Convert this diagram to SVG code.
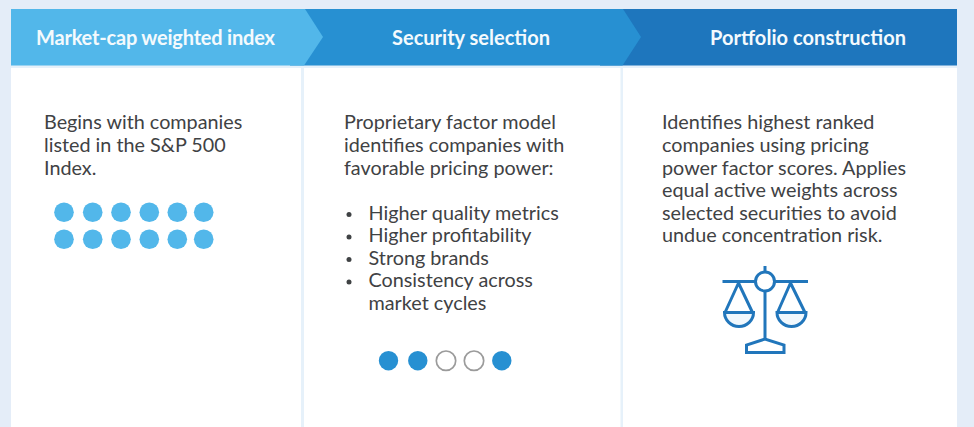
<svg xmlns="http://www.w3.org/2000/svg" width="974" height="427" viewBox="0 0 974 427">
<style>
.h{font:700 20px "Lato","Noto Sans",sans-serif;fill:#f4fafd}
.b{font:400 19.800px "Lato","Noto Sans",sans-serif;fill:#3f4244}
.t{fill:#3f4244}
.l{fill:#52b7ea}.m{fill:#2790d2}.d{fill:#1e76bd}
.ic{fill:none;stroke:#2176bb;stroke-width:3}
.o{fill:#fff;stroke:#9b9b9b;stroke-width:1.7}
</style>
<rect width="974" height="427" fill="#e4edf8"/>
<rect x="11" y="66" width="946" height="361" fill="#fff"/>
<rect x="11" y="65.500" width="946" height="2.500" fill="#e6f1fa"/>
<rect x="301" y="68" width="3" height="359" fill="#e6f1fa"/>
<rect x="620.500" y="68" width="2.500" height="359" fill="#e6f1fa"/>
<g id="node-portfolio">
<path class="d" d="M600 9H957V65.500H600Z"/>
<text class="h" x="710" y="45" textLength="196">Portfolio construction</text>
<text class="b" x="662" y="129">Identifies highest ranked</text>
<text class="b" x="662" y="152">companies using pricing</text>
<text class="b" x="662" y="175">power factor scores. Applies</text>
<text class="b" x="662" y="197">equal active weights across</text>
<text class="b" x="662" y="220">selected securities to avoid</text>
<text class="b" x="662" y="242">undue concentration risk.</text>
<g class="ic">
<path d="M765 266V272M722.500 281.500H755.500M774.500 281.500H808M765 291V339"/>
<circle cx="765" cy="281.500" r="9.500"/>
<path d="M738.500 283L725 312.500M738.500 283L752.500 312.500M790.500 283L777.500 312.500M790.500 283L805 312.500"/>
<path d="M724.500 312.500H753.500A14.500 14 0 0 1 724.500 312.500ZM777 312.500H806A14.500 14 0 0 1 777 312.500Z" fill="#f1f8fd"/>
<path d="M746.500 352.500V345L765 339L784 345V352.500Z"/>
</g>
</g>
<g id="node-security">
<path class="m" d="M290 9H623L641 37L622.500 65.500H290Z"/>
<text class="h" x="392" y="45" textLength="158">Security selection</text>
<text class="b" x="344" y="129">Proprietary factor model</text>
<text class="b" x="344" y="152">identifies companies with</text>
<text class="b" x="344" y="175">favorable pricing power:</text>
<circle class="t" cx="349" cy="214.500" r="2.500"/>
<circle class="t" cx="349" cy="237" r="2.500"/>
<circle class="t" cx="349" cy="259.500" r="2.500"/>
<circle class="t" cx="349" cy="282" r="2.500"/>
<text class="b" x="368.500" y="220">Higher quality metrics</text>
<text class="b" x="368.500" y="242">Higher profitability</text>
<text class="b" x="368.500" y="265">Strong brands</text>
<text class="b" x="368.500" y="287">Consistency across</text>
<text class="b" x="368.500" y="310">market cycles</text>
<circle class="m" cx="388.500" cy="360.700" r="9.700"/>
<circle class="m" cx="417.800" cy="360.700" r="9.700"/>
<circle class="o" cx="446" cy="360.700" r="9.700"/>
<circle class="o" cx="474" cy="360.700" r="9.700"/>
<circle class="m" cx="501.800" cy="360.700" r="9.700"/>
</g>
<g id="node-index">
<path class="l" d="M11 9H305L323 37L304 65.500H11Z"/>
<text class="h" x="36" y="45" textLength="239">Market-cap weighted index</text>
<text class="b" x="44" y="129">Begins with companies</text>
<text class="b" x="44" y="152">listed in the S&amp;P 500</text>
<text class="b" x="44" y="175">Index.</text>
<g class="l">
<circle cx="64" cy="212.300" r="9.800"/><circle cx="92.700" cy="212.300" r="9.800"/><circle cx="121" cy="212.300" r="9.800"/><circle cx="149.300" cy="212.300" r="9.800"/><circle cx="177.300" cy="212.300" r="9.800"/><circle cx="203.700" cy="212.300" r="9.800"/>
<circle cx="64" cy="239.300" r="9.800"/><circle cx="92.700" cy="239.300" r="9.800"/><circle cx="121" cy="239.300" r="9.800"/><circle cx="149.300" cy="239.300" r="9.800"/><circle cx="177.300" cy="239.300" r="9.800"/><circle cx="203.700" cy="239.300" r="9.800"/>
</g>
</g>
<g id="connectors"></g>
</svg>
